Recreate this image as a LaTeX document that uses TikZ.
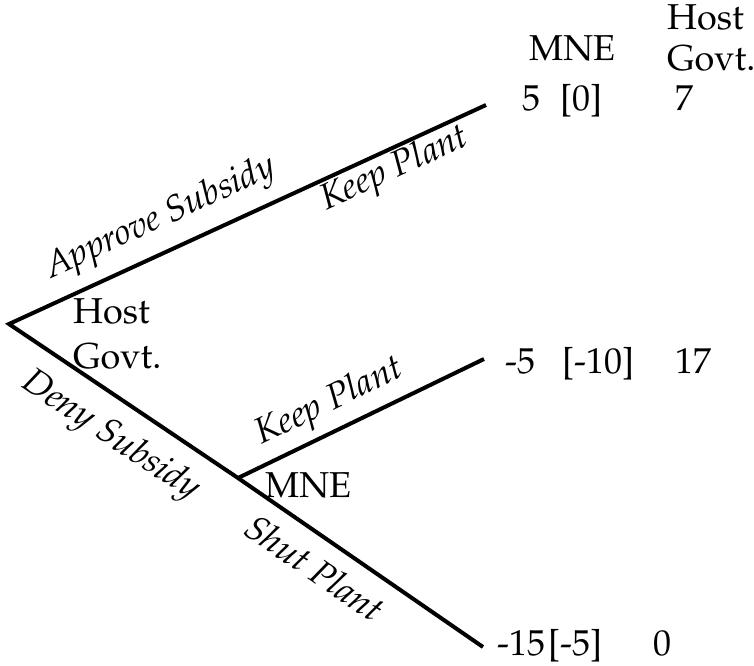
\documentclass[tikz,border=0pt]{standalone}
\usepackage[T1]{fontenc}
\usepackage{mathpazo}
\begin{document}
\begin{tikzpicture}[x=1pt,y=-1pt,
  branch/.style={line width=4pt, line cap=butt, line join=miter},
  txt/.style={inner sep=0pt, anchor=base west, font=\fontsize{36}{40}\selectfont},
  move/.style={inner sep=0pt, anchor=center, font=\fontsize{36}{40}\selectfont\itshape}]
\useasboundingbox (0,0) rectangle (754,665);

% decision nodes and terminal points of the tree
\coordinate (root) at (9,324);
\coordinate (mne) at (238,478);
\coordinate (endA) at (486,105);
\coordinate (endK) at (484,359);
\coordinate (endS) at (483,647);

% branches
\draw[branch] (endA) -- (root) -- (mne) -- (endS);
\draw[branch] (mne) -- (endK);

% move labels along the branches
\node[move, rotate=24.6] (approve) at (161,219) {Approve Subsidy};
\node[move, rotate=24.6] (keepA) at (395,170) {Keep Plant};
\node[move, rotate=-33.8] (deny) at (110,437) {Deny Subsidy};
\node[move, rotate=25.8] (keepB) at (330,403) {Keep Plant};
\node[move, rotate=-34.6] (shut) at (315,568) {Shut Plant};

% players at the decision nodes
\node[txt] (hostA) at (73,323) {Host};
\node[txt] (govtA) at (73,368) {Govt.};
\node[txt] (mneLbl) at (265,497) {MNE};

% payoff column headings
\node[txt] (headM) at (529,60) {MNE};
\node[txt] (headH) at (667,29) {Host};
\node[txt] (headG) at (667,70) {Govt.};

% payoffs
\node[txt] (p1a) at (522,110) {5};
\node[txt] (p1b) at (560,110) {[0]};
\node[txt] (p1c) at (675,110) {7};
\node[txt] (p2a) at (505,373) {-5};
\node[txt] (p2b) at (562,373) {[-10]};
\node[txt] (p2c) at (675,373) {17};
\node[txt] (p3a) at (497,655) {-15};
\node[txt] (p3b) at (548,655) {[-5]};
\node[txt] (p3c) at (653,655) {0};
\end{tikzpicture}
\end{document}
